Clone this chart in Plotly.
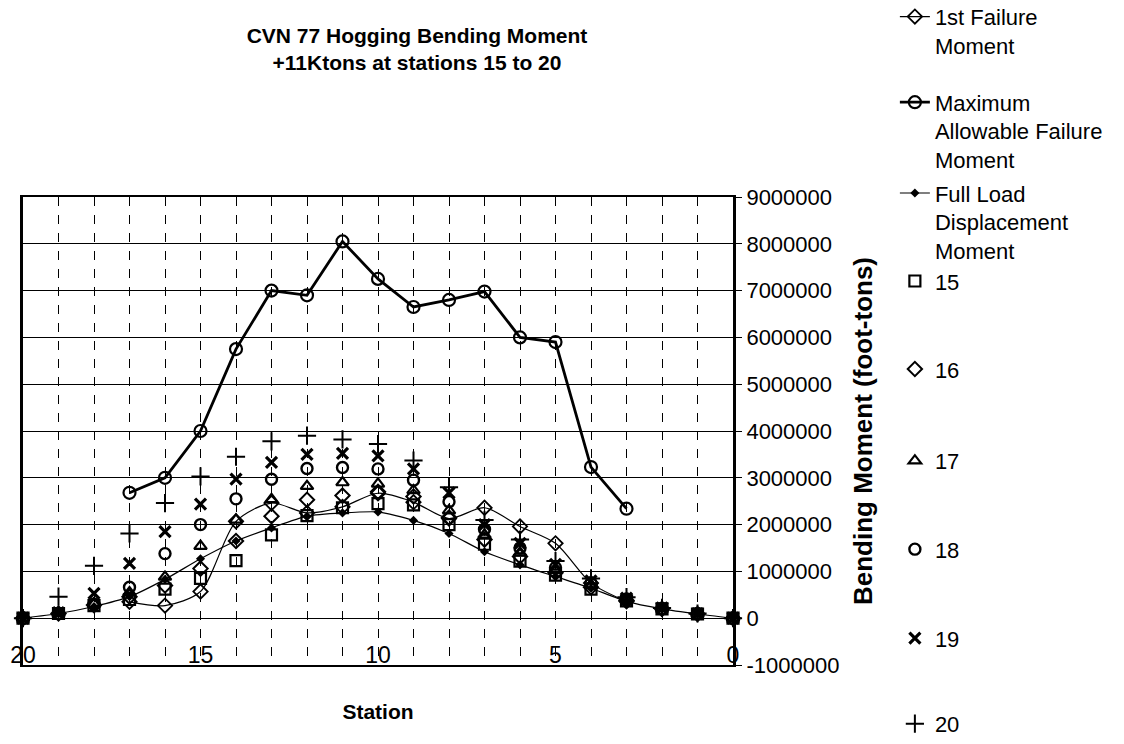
import plotly.graph_objects as go

# Stations run from the bow end (20) to the stern end (0)
stations = [20, 19, 18, 17, 16, 15, 14, 13, 12, 11, 10, 9, 8, 7, 6, 5, 4, 3, 2, 1, 0]

# Capacity curves (defined between stations 17 and 3)
capacity_stations = [17, 16, 15, 14, 13, 12, 11, 10, 9, 8, 7, 6, 5, 4, 3]
first_failure = [350000, 270000, 570000, 2070000, 2460000, 2250000, 2380000, 2670000,
                 2480000, 2130000, 2360000, 1960000, 1600000, 750000, 360000]
max_allowable = [2680000, 3000000, 4000000, 5750000, 7000000, 6900000, 8050000, 7250000,
                 6650000, 6800000, 6980000, 6000000, 5900000, 3230000, 2340000]

# Full load displacement moment at every station
full_load = [0, 100000, 250000, 460000, 830000, 1270000, 1650000, 1930000, 2180000, 2250000,
             2270000, 2090000, 1810000, 1420000, 1140000, 890000, 640000, 360000, 200000, 90000, 0]

# Moments with +11 Ktons added at the named station
load_15 = [0, 100000, 270000, 400000, 620000, 850000, 1230000, 1780000, 2190000, 2360000,
           2450000, 2420000, 2000000, 1580000, 1220000, 920000, 620000, 370000, 200000, 90000, 0]
load_16 = [0, 100000, 280000, 460000, 700000, 1060000, 1650000, 2180000, 2530000, 2620000,
           2700000, 2600000, 2150000, 1680000, 1320000, 970000, 660000, 380000, 200000, 90000, 0]
load_17 = [0, 100000, 300000, 550000, 880000, 1540000, 2100000, 2540000, 2820000, 2900000,
           2870000, 2730000, 2300000, 1780000, 1400000, 1020000, 700000, 400000, 210000, 90000, 0]
load_18 = [0, 100000, 300000, 660000, 1380000, 2000000, 2550000, 2970000, 3200000, 3220000,
           3190000, 2950000, 2490000, 1900000, 1500000, 1080000, 750000, 410000, 210000, 100000, 0]
load_19 = [0, 120000, 530000, 1170000, 1850000, 2440000, 2970000, 3330000, 3500000, 3520000,
           3470000, 3190000, 2680000, 2000000, 1600000, 1150000, 800000, 430000, 220000, 100000, 0]
load_20 = [0, 460000, 1120000, 1810000, 2460000, 3030000, 3450000, 3780000, 3900000, 3820000,
           3720000, 3370000, 2800000, 2100000, 1680000, 1220000, 850000, 450000, 220000, 100000, 0]

x_tick_vals = [20, 15, 10, 5, 0]
x_tick_text = ["20", "15", "10", "5", "0"]
y_tick_vals = [-1000000, 0, 1000000, 2000000, 3000000, 4000000, 5000000, 6000000, 7000000, 8000000, 9000000]
y_tick_text = ["-1000000", "0", "1000000", "2000000", "3000000", "4000000", "5000000",
               "6000000", "7000000", "8000000", "9000000"]

FONT = "Liberation Sans, Arial, Helvetica, sans-serif"
INK = "black"

fig = go.Figure()

fig.add_trace(go.Scatter(
    x=capacity_stations, y=first_failure, name="1st Failure<br>Moment",
    mode="lines+markers", line=dict(color=INK, width=1.2, shape="spline", smoothing=0.8),
    marker=dict(symbol="diamond-open", size=11, color=INK, line=dict(width=1.8, color=INK)),
    legend="legend", cliponaxis=False,
))
fig.add_trace(go.Scatter(
    x=capacity_stations, y=max_allowable, name="Maximum<br>Allowable Failure<br>Moment",
    mode="lines+markers", line=dict(color=INK, width=2.8),
    marker=dict(symbol="circle-open", size=12, color=INK, line=dict(width=2.2, color=INK)),
    legend="legend2", cliponaxis=False,
))
fig.add_trace(go.Scatter(
    x=stations, y=full_load, name="Full Load<br>Displacement<br>Moment",
    mode="lines+markers", line=dict(color=INK, width=1.2, shape="spline", smoothing=0.6),
    marker=dict(symbol="diamond", size=7, color=INK),
    legend="legend3", cliponaxis=False,
))

load_series = [
    ("15", load_15, "square-open", 11, 2.2, "legend4"),
    ("16", load_16, "diamond-open", 11, 2.0, "legend5"),
    ("17", load_17, "triangle-up-open", 11, 2.2, "legend6"),
    ("18", load_18, "circle-open", 11, 2.4, "legend7"),
    ("19", load_19, "x-thin-open", 11, 3.2, "legend8"),
    ("20", load_20, "cross-thin-open", 13, 2.0, "legend9"),
]
for name, values, symbol, size, lw, leg in load_series:
    fig.add_trace(go.Scatter(
        x=stations, y=values, name=name, mode="markers",
        marker=dict(symbol=symbol, size=size, color=INK, line=dict(width=lw, color=INK)),
        legend=leg, cliponaxis=False,
    ))

# Empty trace that carries the station tick-label axis
fig.add_trace(go.Scatter(
    x=x_tick_vals, y=[None] * len(x_tick_vals), xaxis="x2", yaxis="y",
    mode="markers", showlegend=False, hoverinfo="skip",
))

# One legend box per entry so each entry sits at its own height on the right
legend_tops = [1.43, 1.247, 1.053, 0.865, 0.677, 0.481, 0.292, 0.102, -0.081]
legend_names = ["legend"] + [f"legend{i}" for i in range(2, 10)]
legend_layout = {}
for leg, top in zip(legend_names, legend_tops):
    legend_layout[leg] = dict(
        x=1.228, xanchor="left", y=top, yanchor="top",
        font=dict(family=FONT, size=22, color=INK),
        bgcolor="rgba(0,0,0,0)", borderwidth=0, valign="top",
        itemwidth=30, tracegroupgap=0,
    )

fig.update_layout(
    width=1124, height=744,
    paper_bgcolor="white", plot_bgcolor="white",
    margin=dict(l=23, r=391, t=197, b=79, autoexpand=False),
    font=dict(family=FONT, size=22, color=INK),
    title=dict(
        text="<b>CVN 77 Hogging Bending Moment<br>+11Ktons at stations 15 to 20</b>",
        x=0.371, xref="container", xanchor="center",
        y=0.942, yref="container", yanchor="top",
        font=dict(family=FONT, size=21, color=INK),
    ),
    showlegend=True,
    xaxis=dict(
        range=[20, 0], tickvals=x_tick_vals, showticklabels=False,
        showgrid=True, gridcolor=INK, gridwidth=1, griddash="dash",
        minor=dict(dtick=1, tick0=0, showgrid=True, gridcolor=INK, gridwidth=1, griddash="dash"),
        showline=True, linecolor=INK, linewidth=2, mirror=True,
        zeroline=False, ticks="",
        title=dict(text="<b>Station</b>", font=dict(family=FONT, size=21, color=INK), standoff=38),
    ),
    xaxis2=dict(
        overlaying="x", anchor="free", position=0.056, side="bottom",
        range=[20, 0], tickvals=x_tick_vals, ticktext=x_tick_text,
        tickfont=dict(family=FONT, size=23, color=INK),
        showgrid=False, showline=False, zeroline=False, ticks="",
    ),
    yaxis=dict(
        range=[-1000000, 9000000], tickvals=y_tick_vals, ticktext=y_tick_text, side="right",
        tickfont=dict(family=FONT, size=22, color=INK),
        showgrid=True, gridcolor=INK, gridwidth=1,
        showline=True, linecolor=INK, linewidth=3, mirror=True,
        zeroline=False, ticks="outside", ticklen=6, tickcolor=INK,
        title=dict(text="<b>Bending Moment (foot-tons)</b>",
                   font=dict(family=FONT, size=26, color=INK), standoff=16),
    ),
    **legend_layout,
)

fig.write_html("out.html")
